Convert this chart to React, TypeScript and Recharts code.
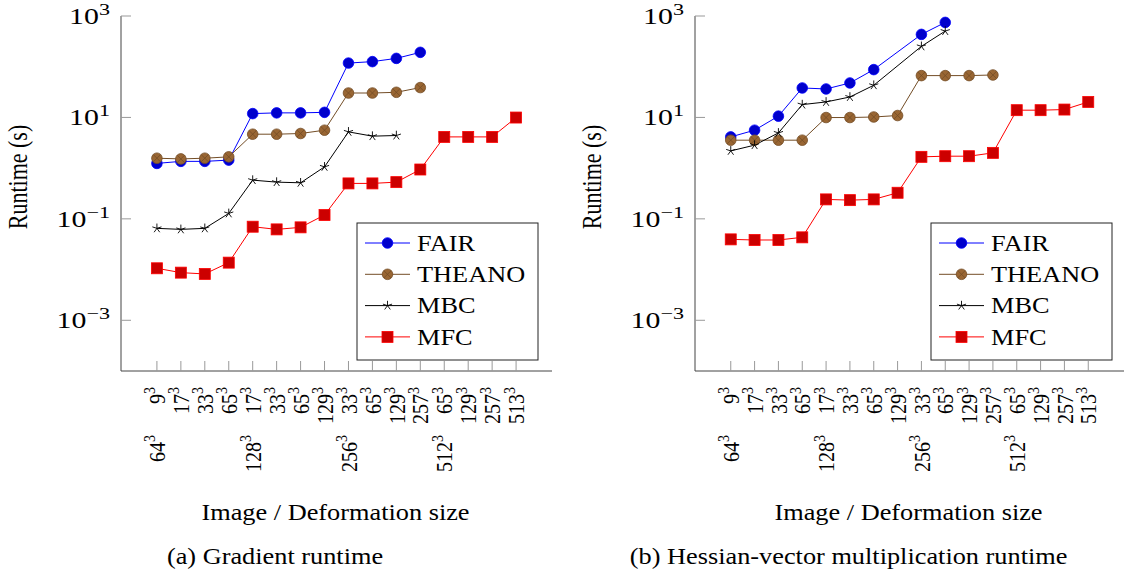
import { LineChart, Line, XAxis, YAxis } from 'recharts'

// x categories: deformation size (row 1) and image size (row 2, group starts only)
const deformSizes = ['9', '17', '33', '65', '17', '33', '65', '129', '33', '65', '129', '257', '65', '129', '257', '513']
const imageSizes = ['64', '', '', '', '128', '', '', '', '256', '', '', '', '512', '', '', '']
const xTicks = deformSizes.map((_, i) => i + 1)
const yTicks = [1e3, 1e1, 1e-1, 1e-3]

// (a) gradient runtime, seconds
const gradFair = [1.24, 1.36, 1.36, 1.44, 11.9, 12.3, 12.3, 12.6, 118, 126, 146, 192]
const gradTheano = [1.57, 1.52, 1.57, 1.67, 4.67, 4.67, 4.82, 5.6, 30.3, 30.3, 31.3, 38.8]
const gradMbc = [0.065, 0.062, 0.065, 0.128, 0.58, 0.53, 0.514, 1.06, 5.19, 4.27, 4.4]
const gradMfc = [0.0106, 0.0087, 0.0082, 0.0137, 0.07, 0.062, 0.068, 0.119, 0.5, 0.5, 0.53, 0.94, 4.13, 4.13, 4.13, 9.95]

// (b) hessian-vector multiplication runtime, seconds
const hessFair = [4.13, 5.6, 10.6, 38.1, 36.4, 47.8, 87.7, null, 434, 748]
const hessTheano = [3.56, 3.56, 3.56, 3.56, 9.95, 9.95, 10.2, 10.9, 66.8, 66.8, 66.8, 68.7]
const hessMbc = [2.19, 2.84, 4.95, 17.9, 20.2, 25.3, 43.1, null, 252, 505]
const hessMfc = [0.0394, 0.0383, 0.0383, 0.0432, 0.242, 0.234, 0.242, 0.327, 1.67, 1.72, 1.72, 2.0, 13.9, 13.9, 14.3, 20.2]

const seriesNames = ['FAIR', 'THEANO', 'MBC', 'MFC']

const FONT = 'Liberation Serif, DejaVu Serif, serif'
const txt = { fontFamily: FONT }
const BOX = '#444'
const TICK = '#999'

const styles: Record<string, { stroke: string; fill: string; mark: string }> = {
  FAIR: { stroke: '#0000ff', fill: '#0000cc', mark: 'circle' },
  THEANO: { stroke: '#734d26', fill: '#996633', mark: 'otimes' },
  MBC: { stroke: '#000000', fill: '#000000', mark: 'star' },
  MFC: { stroke: '#ff0000', fill: '#cc0000', mark: 'square' },
}

function buildRows(fair: (number | null)[], theano: (number | null)[], mbc: (number | null)[], mfc: (number | null)[]) {
  return deformSizes.map((_, i) => ({
    idx: i + 1,
    FAIR: fair[i] ?? null,
    THEANO: theano[i] ?? null,
    MBC: mbc[i] ?? null,
    MFC: mfc[i] ?? null,
  }))
}

function Marker({ name, cx, cy }: { name: string; cx: number; cy: number }) {
  const s = styles[name]
  if (s.mark === 'circle') return <circle cx={cx} cy={cy} r={5.3} fill={s.fill} stroke={s.stroke} strokeWidth={0.8} />
  if (s.mark === 'square') return <rect x={cx - 5.5} y={cy - 5.5} width={11} height={11} fill={s.fill} stroke={s.stroke} strokeWidth={0.8} />
  if (s.mark === 'otimes') {
    const d = 3.7
    return (
      <g>
        <circle cx={cx} cy={cy} r={5.3} fill={s.fill} stroke={s.stroke} strokeWidth={0.8} />
        <line x1={cx - d} y1={cy - d} x2={cx + d} y2={cy + d} stroke={s.stroke} strokeWidth={0.8} />
        <line x1={cx - d} y1={cy + d} x2={cx + d} y2={cy - d} stroke={s.stroke} strokeWidth={0.8} />
      </g>
    )
  }
  const r = 4.8
  return (
    <g>
      {[0, 1, 2, 3, 4].map(k => {
        const a = (-90 + 72 * k) * Math.PI / 180
        return <line key={k} x1={cx} y1={cy} x2={cx + r * Math.cos(a)} y2={cy + r * Math.sin(a)} stroke={s.stroke} strokeWidth={0.9} />
      })}
    </g>
  )
}

const dotFor = (name: string) => (p: any) => {
  if (p.cx == null || p.cy == null || p.value == null) return <g key={p.index} />
  return <g key={p.index}><Marker name={name} cx={p.cx} cy={p.cy} /></g>
}

function BottomTick({ x, y, payload }: any) {
  const i = payload.value - 1
  const img = imageSizes[i]
  return (
    <g>
      <line x1={x} y1={y} x2={x} y2={y - 10} stroke={TICK} />
      <g transform={`translate(${x},${y + 16}) scale(1.2,1) rotate(-90)`}>
        <text x={0} y={6.8} textAnchor="end" fontSize={20} style={txt} fill="#000">
          {deformSizes[i]}<tspan dy={-8} fontSize={14}>3</tspan>
        </text>
      </g>
      {img && (
        <g transform={`translate(${x},${y + 64}) scale(1.2,1) rotate(-90)`}>
          <text x={0} y={6.8} textAnchor="end" fontSize={20} style={txt} fill="#000">
            {img}<tspan dy={-8} fontSize={14}>3</tspan>
          </text>
        </g>
      )}
    </g>
  )
}

function TopTick({ x, y }: any) {
  return <line x1={x} y1={y} x2={x} y2={y + 10} stroke={TICK} />
}

function LeftTick({ x, y, payload }: any) {
  const e = Math.round(Math.log10(payload.value))
  const exp = e < 0 ? `\u2212${-e}` : `${e}`
  return (
    <g>
      <line x1={x} y1={y} x2={x + 10} y2={y} stroke={TICK} />
      <g transform={`translate(${x - 11},${y}) scale(1.3,1)`}>
        <text x={0} y={7.8} textAnchor="end" fontSize={23} style={txt} fill="#000">
          10<tspan dy={-9} fontSize={17}>{exp}</tspan>
        </text>
      </g>
    </g>
  )
}

function RightTick({ x, y }: any) {
  return <line x1={x} y1={y} x2={x - 10} y2={y} stroke={TICK} />
}

function Panel({ rows, left, width, margin }: { rows: any[]; left: number; width: number; margin: any }) {
  return (
    <div style={{ position: 'absolute', left, top: 0 }}>
      <LineChart width={width} height={577} data={rows} margin={margin}>
        <XAxis xAxisId="b" dataKey="idx" type="number" domain={[-0.5, 17.5]} ticks={xTicks} interval={0}
          height={150} tickSize={0} tickMargin={0} axisLine={{ stroke: BOX }} tickLine={false} tick={BottomTick} />
        <XAxis xAxisId="t" orientation="top" dataKey="idx" type="number" domain={[-0.5, 17.5]} ticks={xTicks} interval={0}
          height={0} tickSize={0} tickMargin={0} axisLine={{ stroke: BOX }} tickLine={false} tick={TopTick} />
        <YAxis yAxisId="l" type="number" scale="log" domain={[1e-4, 1e3]} ticks={yTicks} allowDataOverflow interval={0}
          width={50} tickSize={0} tickMargin={0} axisLine={{ stroke: BOX }} tickLine={false} tick={LeftTick} />
        <YAxis yAxisId="r" orientation="right" type="number" scale="log" domain={[1e-4, 1e3]} ticks={yTicks} allowDataOverflow interval={0}
          width={0} tickSize={0} tickMargin={0} axisLine={{ stroke: BOX }} tickLine={false} tick={RightTick} />
        {seriesNames.map(n => (
          <Line key={n} xAxisId="b" yAxisId="l" type="linear" dataKey={n} stroke={styles[n].stroke} strokeWidth={1}
            dot={dotFor(n)} activeDot={false} connectNulls isAnimationActive={false} />
        ))}
      </LineChart>
    </div>
  )
}

function LegendBox({ x, y }: { x: number; y: number }) {
  return (
    <g transform={`translate(${x},${y})`}>
      <rect x={0} y={0} width={181} height={137} fill="#fff" stroke="#222" strokeWidth={1} />
      {seriesNames.map((n, i) => {
        const cy = 20 + i * 31.3
        return (
          <g key={n}>
            <line x1={8} y1={cy} x2={53} y2={cy} stroke={styles[n].stroke} strokeWidth={1} />
            <Marker name={n} cx={30.5} cy={cy} />
            <g transform={`translate(60,${cy + 7.8}) scale(1.12,1)`}>
              <text x={0} y={0} fontSize={23.5} style={txt} fill="#000">{n}</text>
            </g>
          </g>
        )
      })}
    </g>
  )
}

function HText({ x, y, size, children }: any) {
  return (
    <g transform={`translate(${x},${y}) scale(1.12,1)`}>
      <text x={0} y={0} textAnchor="middle" fontSize={size} style={txt} fill="#000">{children}</text>
    </g>
  )
}

function VText({ x, y, children }: any) {
  return (
    <g transform={`translate(${x},${y}) scale(1.2,1) rotate(-90)`}>
      <text x={0} y={0} textAnchor="middle" fontSize={22} style={txt} fill="#000">{children}</text>
    </g>
  )
}

export default function App() {
  const gradRows = buildRows(gradFair, gradTheano, gradMbc, gradMfc)
  const hessRows = buildRows(hessFair, hessTheano, hessMbc, hessMfc)
  return (
    <div style={{ position: 'absolute', left: 0, top: 0, width: 1125, height: 577, background: '#fff', overflow: 'hidden', fontFamily: FONT }}>
      <Panel rows={gradRows} left={0} width={560} margin={{ top: 16, right: 8, bottom: 56, left: 71 }} />
      <Panel rows={hessRows} left={560} width={565} margin={{ top: 16, right: 1, bottom: 56, left: 85 }} />
      <svg width={1125} height={577} style={{ position: 'absolute', left: 0, top: 0, pointerEvents: 'none' }}>
        <VText x={26.6} y={177}>Runtime (s)</VText>
        <VText x={600.6} y={177}>Runtime (s)</VText>
        <LegendBox x={357} y={223} />
        <LegendBox x={931} y={223} />
        <HText x={335.5} y={520} size={23.5}>Image / Deformation size</HText>
        <HText x={908.5} y={520} size={23.5}>Image / Deformation size</HText>
        <HText x={275} y={564} size={23.5}>(a) Gradient runtime</HText>
        <HText x={848.6} y={564} size={23.5}>(b) Hessian-vector multiplication runtime</HText>
      </svg>
    </div>
  )
}
